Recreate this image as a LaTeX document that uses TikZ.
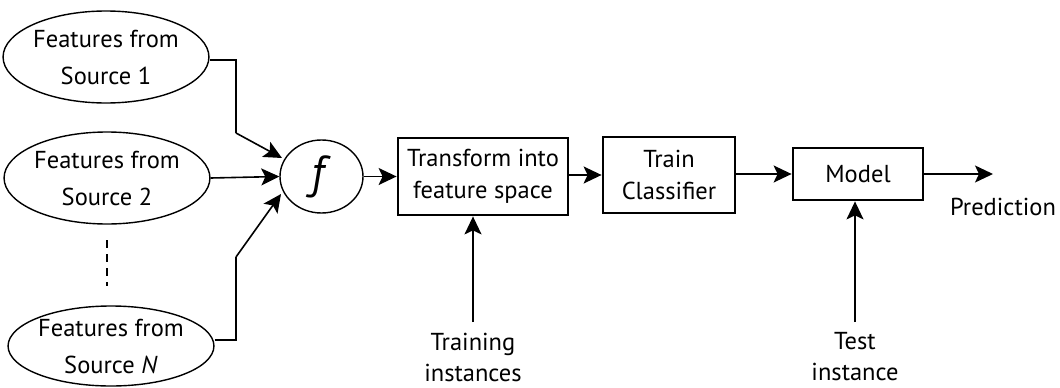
\documentclass[tikz,border=0pt]{standalone}
\usepackage{fontspec}
\setmainfont{PT Sans}
\usetikzlibrary{arrows.meta,shapes.geometric}

\tikzset{
  srcell/.style={draw, line width=1.4pt, ellipse, inner sep=0pt,
    minimum width=192pt, minimum height=92pt, align=center,
    font=\fontsize{24.5}{37}\selectfont},
  procbox/.style={draw, line width=2.8pt, rectangle, inner sep=0pt, align=center,
    font=\fontsize{24.5}{32}\selectfont},
  lbl/.style={inner sep=0pt, align=center, font=\fontsize{24.5}{31}\selectfont},
  arr/.style={line width=1.6pt, -{Stealth[length=18pt, width=17pt, inset=4pt]}},
  plain/.style={line width=1.6pt}
}

\begin{document}
\begin{tikzpicture}[x=1pt, y=-1pt]
  \useasboundingbox (0,0) rectangle (1060,388);

  % input feature sources
  \node[srcell] (s1) at (106,57) {Features from\\Source 1};
  \node[srcell] (s2) at (107,178) {Features from\\Source 2};
  \node[srcell, minimum height=80pt] (sN) at (111,346) {Features from\\Source \textit{N}};

  % combining function
  \node[draw, line width=1.4pt, ellipse, minimum width=83pt, minimum height=73pt,
        inner sep=0pt, font=\fontsize{46}{46}\selectfont] (f) at (321.5,176.5) {\textit{f}};

  % processing stages
  \node[procbox, minimum width=170pt, minimum height=77pt] (tr) at (483,176.5)
    {Transform into\\feature space};
  \node[procbox, minimum width=132pt, minimum height=76pt] (tc) at (669,175)
    {Train\\Classifier};
  \node[procbox, minimum width=130pt, minimum height=52pt] (md) at (858,174)
    {Model};

  % labels
  \node[lbl] (pred) at (1003,207) {Prediction};
  \node[lbl] (train) at (473,357) {Training\\instances};
  \node[lbl] (test) at (855,357) {Test\\instance};

  % elided sources
  \coordinate (d1) at (107,240);
  \coordinate (d2) at (107,286);
  \draw[plain, dash pattern=on 8pt off 6pt] (d1) -- (d2);

  % source connectors
  \coordinate (b1) at (236,60);
  \coordinate (k1) at (236,133);
  \coordinate (t1) at (282,158);
  \draw[plain] (s1.east |- b1) -- (b1) -- (k1);
  \draw[arr] (k1) -- (t1);
  \draw[arr] (s2.east) -- (f.west);
  \coordinate (bN) at (236,340);
  \coordinate (kN) at (236,257);
  \coordinate (tN) at (281,194);
  \draw[plain] (sN.east |- bN) -- (bN) -- (kN);
  \draw[arr] (kN) -- (tN);

  % pipeline connectors
  \draw[arr] (f.east) -- (tr.west |- f.east);
  \draw[arr] (tr.east |- tc.west) -- (tc.west);
  \draw[arr] (tc.east |- md.west) -- (md.west);
  \coordinate (pr) at (993,174);
  \draw[arr] (md.east) -- (pr);

  \coordinate (ti) at (473,322);
  \draw[arr] (ti) -- (ti |- tr.south);
  \coordinate (te) at (855,322);
  \draw[arr] (te) -- (te |- md.south);
\end{tikzpicture}
\end{document}
